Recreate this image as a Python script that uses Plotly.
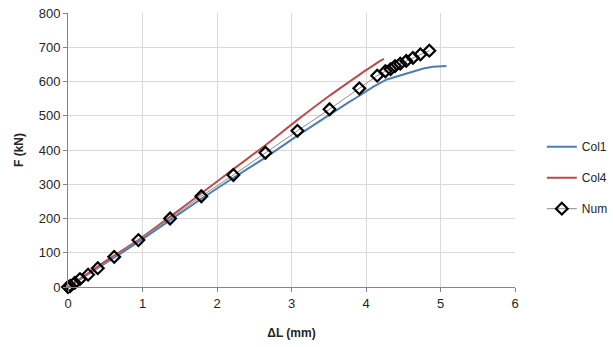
import plotly.graph_objects as go

# Load–displacement data (ΔL in mm, F in kN)
col1_dl = [0, 0.25, 0.5, 0.75, 1.0, 1.4, 1.8, 2.2, 2.65, 3.08, 3.5, 3.75, 3.9, 4.1, 4.28, 4.5, 4.77, 4.9, 5.08]
col1_f = [0, 34, 70, 104, 140, 200, 259, 316, 378, 442, 503, 537, 557, 585, 606, 620, 638, 643, 645]

col4_dl = [0, 0.25, 0.5, 0.75, 1.0, 1.4, 1.8, 2.2, 2.65, 3.08, 3.5, 3.9, 4.0, 4.1, 4.18, 4.24]
col4_f = [0, 37, 75, 110, 146, 210, 275, 341, 414, 488, 557, 618, 633, 647, 659, 666]

num_dl = [0, 0.03, 0.09, 0.16, 0.27, 0.40, 0.62, 0.945, 1.37, 1.79, 2.22, 2.65, 3.08, 3.51,
          3.91, 4.15, 4.26, 4.33, 4.39, 4.46, 4.54, 4.63, 4.73, 4.85]
num_f = [0, 3, 12, 23, 36, 55, 88, 137, 200, 265, 327, 392, 456, 519,
         580, 617, 630, 636, 645, 652, 660, 669, 679, 690]

x_ticks = [0, 1, 2, 3, 4, 5, 6]
y_ticks = [0, 100, 200, 300, 400, 500, 600, 700, 800]

FONT = "Liberation Sans"

fig = go.Figure()
fig.add_trace(go.Scatter(x=col1_dl, y=col1_f, name="Col1", mode="lines",
                         line=dict(color="#4a7ebb", width=2), legendgroup="a"))
fig.add_trace(go.Scatter(x=col4_dl, y=col4_f, name="Col4", mode="lines",
                         line=dict(color="#be4b48", width=2, shape="spline", smoothing=0.6),
                         legendgroup="b"))
fig.add_trace(go.Scatter(x=num_dl, y=num_f, name="Num", mode="lines+markers",
                         line=dict(color="#8c8c8c", width=1),
                         marker=dict(symbol="diamond-open", size=9, color="black",
                                     line=dict(color="black", width=2.2)),
                         cliponaxis=False, legendgroup="c"))

axis_common = dict(showgrid=True, gridcolor="#d9d9d9", gridwidth=1,
                   showline=True, linecolor="#868686", linewidth=1,
                   ticks="outside", ticklen=4, tickcolor="#868686",
                   tickfont=dict(family=FONT, size=13, color="#262626"),
                   zeroline=False, automargin=False)

fig.update_xaxes(range=[0, 6], tickvals=x_ticks,
                 title=dict(text="<b>ΔL (mm)</b>", font=dict(family=FONT, size=12, color="#262626"), standoff=19),
                 **axis_common)
fig.update_yaxes(range=[0, 800], tickvals=y_ticks,
                 title=dict(text="<b>F (kN)</b>", font=dict(family=FONT, size=12, color="#262626"), standoff=12),
                 **axis_common)

fig.update_layout(
    width=613, height=347,
    margin=dict(l=68, r=98, t=13, b=60, autoexpand=False),
    paper_bgcolor="white", plot_bgcolor="white",
    font=dict(family=FONT, size=12, color="#262626"),
    legend=dict(x=1.06, y=0.565, xanchor="left", yanchor="top",
                traceorder="grouped", tracegroupgap=12,
                font=dict(family=FONT, size=12, color="#262626"),
                bgcolor="rgba(0,0,0,0)", itemwidth=30),
)

fig.write_html("out.html")
